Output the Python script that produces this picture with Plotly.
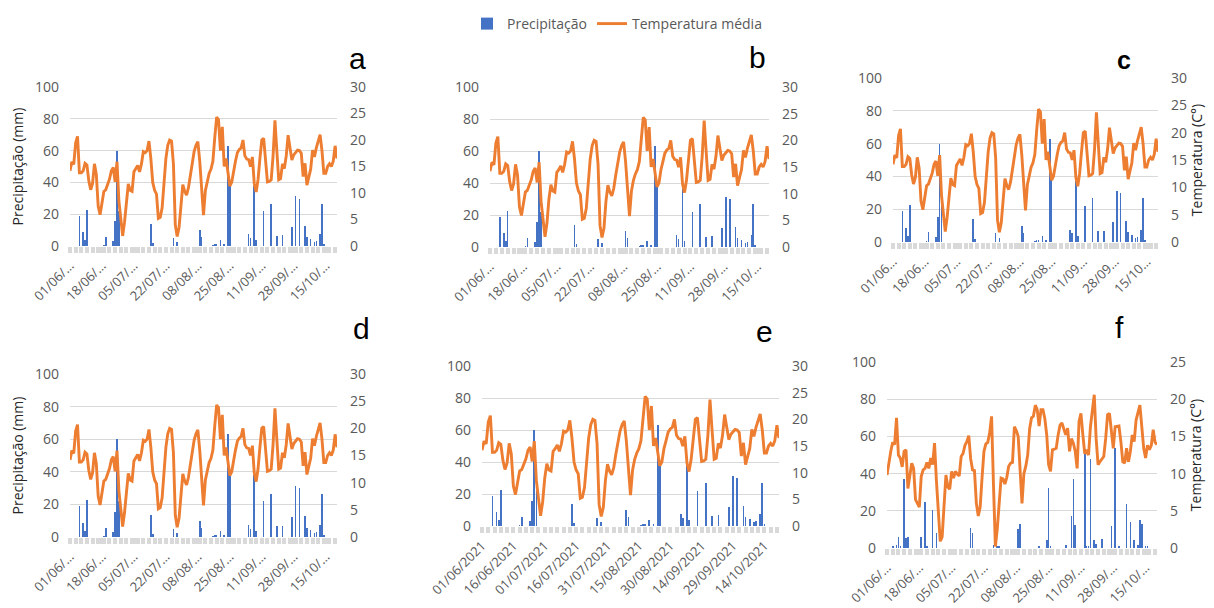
import pandas as pd
import plotly.graph_objects as go

# ---------------- data ----------------
dates = pd.date_range("2021-06-01", periods=143, freq="D")

# mean temperature (°C), panels a-e
temp_ae = [
    14.2, 15.9, 15.4, 19.5, 20.7, 13.8, 13.8, 14.2, 15.6, 15.3,
    12.3, 10.6, 11.8, 15.5, 13.5, 7.5, 5.9, 8.5, 10.3, 10.6,
    11.6, 12.6, 14.2, 14.8, 12.1, 15.9, 8.5, 4.5, 1.9, 4.5,
    9.0, 11.7, 10.5, 10.3, 14.0, 14.5, 15.2, 14.0, 15.5, 17.8,
    17.6, 18.0, 19.8, 16.5, 12.0, 10.5, 9.8, 5.2, 5.4, 7.2,
    12.5, 16.5, 19.0, 20.0, 19.8, 15.5, 4.0, 1.8, 3.5, 8.5,
    11.6, 10.3, 9.6, 11.0, 13.5, 16.0, 17.8, 19.0, 19.7, 16.0,
    11.0, 5.8, 10.5, 12.5, 13.7, 14.5, 16.0, 20.5, 24.3, 23.8,
    18.0, 22.5, 15.0, 16.5, 13.5, 11.3, 12.0, 14.5, 16.0, 17.6,
    18.2, 18.5, 20.0, 17.0, 16.4, 16.3, 15.0, 16.8, 11.8, 10.2,
    12.5, 16.5, 20.0, 20.3, 16.0, 12.1, 12.2, 12.5, 17.0, 23.7,
    18.0, 12.5, 12.7, 15.5, 14.6, 17.0, 20.9, 18.5, 16.2, 17.2,
    17.6, 18.1, 18.0, 17.5, 13.1, 15.6, 11.5, 13.0, 14.5, 18.1,
    16.8, 18.5, 20.0, 21.0, 18.0, 13.7, 13.7, 15.0, 15.5, 15.0,
    16.0, 18.9, 16.5,
]
# rainy days (index from 01/06) and precipitation (mm), panels a-e
rain_day_ae = [5, 7, 8, 9, 18, 19, 23, 24, 25, 26, 43, 44, 55, 57, 69, 70,
               76, 77, 78, 80, 82, 84, 85, 95, 96, 98, 99, 103, 107, 110, 113,
               118, 120, 122, 125, 126, 128, 130, 131, 133, 134, 135]
rain_mm_ae = [18.8, 8.8, 3.8, 22.6, 0.6, 5.8, 3.3, 15.5, 60.0, 22.0, 13.8, 1.6,
              5.2, 2.5, 9.9, 5.7, 0.5, 0.8, 1.2, 3.8, 1.5, 63.0, 40.0, 7.3, 5.2,
              38.0, 3.6, 22.0, 26.6, 6.5, 6.8, 12.0, 31.2, 29.8, 12.6, 5.8,
              4.2, 2.5, 3.0, 7.3, 26.6, 1.5]

# panel f
temp_f = [
    9.8, 11.5, 13.0, 14.2, 13.9, 17.5, 12.5, 12.1, 10.9, 13.0,
    13.2, 8.0, 10.0, 11.4, 10.7, 6.5, 6.0, 5.5, 9.6, 10.5,
    10.7, 11.5, 10.7, 12.1, 11.2, 14.1, 9.0, 4.0, 0.9, 1.5,
    5.0, 9.8, 8.2, 7.9, 10.3, 9.4, 10.3, 9.9, 9.7, 12.3,
    12.7, 13.8, 14.3, 15.1, 12.0, 10.5, 10.4, 6.0, 4.3, 5.5,
    9.5, 13.0, 14.0, 14.2, 15.5, 17.7, 8.5, 0.2, 2.6, 6.0,
    9.4, 9.3, 8.6, 9.5, 11.0, 11.4, 11.5, 16.3, 15.8, 15.0,
    11.2, 6.0, 10.0, 11.0, 12.5, 16.0, 17.5, 17.7, 19.2, 18.6,
    16.4, 18.6, 18.6, 17.4, 15.2, 11.2, 10.3, 13.2, 13.3, 13.4,
    15.2, 16.5, 16.8, 16.0, 15.2, 16.1, 13.0, 14.7, 14.1, 13.0,
    10.7, 17.0, 18.1, 15.2, 12.7, 13.0, 12.5, 16.3, 18.3, 20.6,
    14.7, 11.2, 11.6, 12.0, 12.3, 14.7, 17.9, 18.1, 15.6, 13.4,
    16.3, 16.4, 16.4, 14.3, 11.6, 11.4, 13.4, 11.6, 13.0, 15.2,
    14.3, 17.2, 18.1, 19.2, 16.3, 13.4, 12.1, 13.8, 13.2, 13.8,
    15.9, 14.2, 13.9,
]
rain_day_f = [3, 5, 6, 7, 9, 10, 11, 18, 20, 21, 24, 26, 44, 45, 56, 58, 59,
              69, 70, 80, 84, 85, 86, 94, 97, 98, 99, 104, 105, 106, 107, 109,
              110, 113, 118, 120, 122, 126, 128, 130, 132, 133, 134, 136, 137]
rain_mm_f = [0.9, 1.4, 5.9, 1.0, 37.0, 5.6, 5.9, 5.9, 25.0, 1.0, 20.6, 8.0,
             11.0, 8.3, 1.4, 0.8, 0.6, 10.3, 13.0, 0.8, 4.5, 32.0, 0.8, 1.8,
             17.0, 37.0, 12.2, 53.0, 0.6, 0.8, 48.0, 4.5, 2.3, 4.7, 12.0, 54.0,
             0.6, 23.6, 14.0, 4.5, 1.8, 15.0, 13.0, 0.6, 0.6]

ticks_17_idx = [0, 17, 34, 51, 68, 85, 102, 119, 136]
labels_17 = ["01/06/…", "18/06/…", "05/07/…", "22/07/…", "08/08/…",
             "25/08/…", "11/09/…", "28/09/…", "15/10/…"]
labels_17_c = ["01/06…", "18/06…", "05/07…", "22/07…", "08/08…",
               "25/08…", "11/09…", "28/09…", "15/10…"]
ticks_15_idx = [0, 15, 30, 45, 60, 75, 90, 105, 120, 135]
labels_15 = ["01/06/2021", "16/06/2021", "01/07/2021", "16/07/2021",
             "31/07/2021", "15/08/2021", "30/08/2021", "14/09/2021",
             "29/09/2021", "14/10/2021"]

panel_letters = ["a", "b", "c", "d", "e", "f"]

# ---------------- layout geometry (pixels) ----------------
W, H = 1214, 608
boxes = {  # x0, x1, ytop, ybottom
    "a": (70, 337, 87, 246),
    "b": (490, 769, 87, 247),
    "c": (893, 1158, 78, 242),
    "d": (70, 337, 374, 537),
    "e": (482, 779, 366, 526),
    "f": (887, 1157, 362, 548),
}
letter_pos = {"a": (357, 58), "b": (757, 57), "c": (1124, 60),
              "d": (361, 328), "e": (764, 331), "f": (1119, 327)}

BLUE = "#4472C4"
ORANGE = "#ED7D31"
GRID = "#D9D9D9"
TXT = "#595959"
FONT = "Open Sans"

fig = go.Figure()
layout = dict(
    width=W, height=H, margin=dict(l=0, r=0, t=0, b=0, autoexpand=False),
    paper_bgcolor="white", plot_bgcolor="white",
    showlegend=True,
    legend=dict(orientation="h", x=617 / W, xanchor="center", y=1 - 8 / H,
                yanchor="top", font=dict(family=FONT, size=14, color=TXT),
                traceorder="normal"),
    bargap=0,
    annotations=[], shapes=[],
)

DAY_MS = 86400000

for i, p in enumerate(panel_letters):
    x0, x1, yt, yb = boxes[p]
    xn = "" if i == 0 else str(i + 1)
    yl = 2 * i + 1
    yr = 2 * i + 2
    yln = "" if yl == 1 else str(yl)
    yrn = str(yr)
    if p == "f":
        temp, rd, rm = temp_f, rain_day_f, rain_mm_f
    else:
        temp, rd, rm = temp_ae, rain_day_ae, rain_mm_ae

    fig.add_trace(go.Bar(
        x=[dates[d] for d in rd], y=rm, width=0.32 * DAY_MS,
        marker=dict(color=BLUE, line=dict(width=0)),
        name="Precipitação", showlegend=(i == 0), legendgroup="p",
        xaxis="x" + xn, yaxis="y" + yln))
    fig.add_trace(go.Scatter(
        x=dates, y=temp, mode="lines",
        line=dict(color=ORANGE, width=2.9),
        name="Temperatura média", showlegend=(i == 0), legendgroup="t",
        xaxis="x" + xn, yaxis="y" + yrn))

    if p == "e":
        tv = [dates[k] for k in ticks_15_idx]
        tt = labels_15
    elif p == "c":
        tv = [dates[k] for k in ticks_17_idx]
        tt = labels_17_c
    else:
        tv = [dates[k] for k in ticks_17_idx]
        tt = labels_17

    layout["xaxis" + xn] = dict(
        domain=[x0 / W, x1 / W], anchor="y" + yln, type="date",
        range=[dates[0], dates[-1]], automargin=False,
        tickmode="array", tickvals=tv, ticktext=tt, tickangle=-45,
        ticks="outside", ticklen=6, tickwidth=4, tickcolor=GRID,
        minor=dict(tickmode="linear", tick0=dates[0], dtick=3 * DAY_MS,
                   ticks="outside", ticklen=6, tickwidth=4, tickcolor=GRID,
                   showgrid=False),
        showgrid=False, showline=False, zeroline=False,
        tickfont=dict(family=FONT, size=13, color=TXT),
        fixedrange=True)
    layout["yaxis" + yln] = dict(
        domain=[1 - yb / H, 1 - yt / H], anchor="x" + xn,
        range=[0, 100], tick0=0, dtick=20, automargin=False,
        showgrid=True, gridcolor=GRID, gridwidth=1.3,
        zeroline=False, showline=False, ticks="",
        ticklabelstandoff=10,
        tickfont=dict(family=FONT, size=14, color=TXT))
    if p in ("a", "d"):
        layout["yaxis" + yln]["title"] = dict(
            text="Precipitação (mm)", standoff=8,
            font=dict(family=FONT, size=14, color="#262626"))
    rmax = 25 if p == "f" else 30
    layout["yaxis" + yrn] = dict(
        overlaying="y" + yln, side="right", anchor="x" + xn,
        range=[0, rmax], tick0=0, dtick=5, automargin=False,
        showgrid=False, zeroline=False, showline=False, ticks="",
        ticklabelstandoff=12,
        tickfont=dict(family=FONT, size=14, color=TXT))
    if p in ("c", "f"):
        layout["yaxis" + yrn]["title"] = dict(
            text="Temperatura (C°)", standoff=6,
            font=dict(family=FONT, size=14, color="#262626"))

    lx, ly = letter_pos[p]
    if p == "c":
        lf = dict(family="Liberation Sans", size=25, color="black")
        txt = "<b>c</b>"
    else:
        lf = dict(family="Liberation Sans", size=30, color="black")
        txt = p
    layout["annotations"].append(dict(
        text=txt, x=lx / W, y=1 - ly / H, xref="paper", yref="paper",
        xanchor="center", yanchor="middle", showarrow=False, font=lf))

# panel f's image overlapping the right labels of panel e
layout["shapes"].append(dict(
    type="rect", xref="paper", yref="paper", layer="above",
    x0=808 / W, x1=838 / W, y0=1 - 520 / H, y1=1 - 352 / H,
    fillcolor="white", line=dict(width=0)))

fig.update_layout(**layout)
fig.write_html("out.html",
               config={"displayModeBar": False},
               post_script="document.body.style.margin='0';"
                           "document.body.style.overflow='hidden';")
